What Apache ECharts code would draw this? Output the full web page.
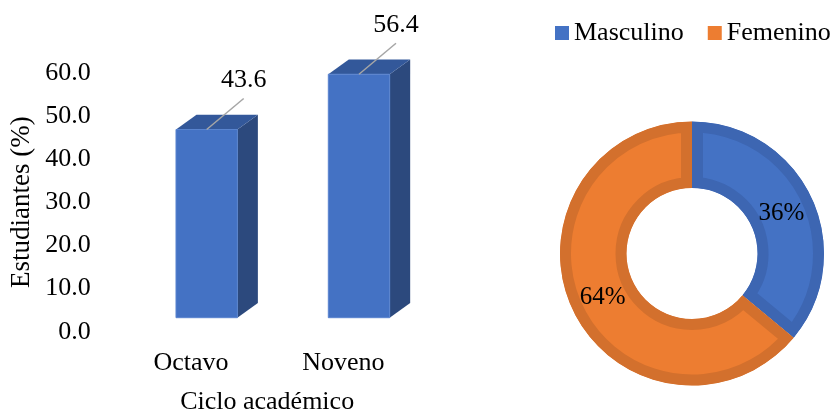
<!DOCTYPE html>
<html><head><meta charset="utf-8">
<script src="https://cdn.jsdelivr.net/npm/echarts@6/dist/echarts.min.js"></script>
<style>html,body{margin:0;padding:0;background:#fff}#c{width:840px;height:412px}</style>
</head><body><div id="c"></div>
<script>
// ---- data ----
const cycleLabels = ['Octavo', 'Noveno'];
const cycleValues = [43.6, 56.4];
const yTicks = [0, 10, 20, 30, 40, 50, 60];
const sexLabels = ['Masculino', 'Femenino'];
const sexValues = [36, 64];

// ---- styles ----
const FONT = '"Liberation Serif", "Times New Roman", serif';
const SLICE_FILL = ['#4472C4', '#ED7D31'];
const SLICE_EDGE = ['#3D66B2', '#D3702D'];
const DX = 20.5, DY = -14.7, LIFT = 14;

const chart = echarts.init(document.getElementById('c'), null, {renderer: 'canvas'});

function renderBar(params, api) {
  const v = api.value(1);
  const base = api.coord([api.value(0), 0]);
  const top = api.coord([api.value(0), v]);
  const band = api.size([1, 0])[0];
  const w = band * 0.403;
  const x0 = base[0] - band * 0.0985;
  const x1 = x0 + w;
  const yb = base[1] - LIFT;
  const yt = top[1] - LIFT;
  const cx = (x0 + x1) / 2;
  return {
    type: 'group',
    children: [
      {type: 'polygon', shape: {points: [[x1, yb], [x1 + DX, yb + DY], [x1 + DX, yt + DY], [x1, yt]]}, style: {fill: '#2C497D'}},
      {type: 'polygon', shape: {points: [[x0, yt], [x1, yt], [x1 + DX, yt + DY], [x0 + DX, yt + DY]]}, style: {fill: '#33589A'}},
      {type: 'rect', shape: {x: x0, y: yt, width: w, height: yb - yt}, style: {fill: '#4472C4', stroke: '#5A84CF', lineWidth: 1}},
      {type: 'line', shape: {x1: cx, y1: yt, x2: cx + 37, y2: yt - 31}, style: {stroke: '#A6A6A6', lineWidth: 1.5}},
      {type: 'text', x: cx + 37, y: yt - 49, style: {text: v.toFixed(1), fontSize: 26, fontFamily: FONT, fill: '#000', align: 'center', verticalAlign: 'middle'}}
    ]
  };
}

function renderSlice(params, api) {
  const k = params.seriesIndex - 1;
  const a0 = api.value(0), a1 = api.value(1), pct = api.value(2);
  const cs = params.coordSys;
  const sa = -api.coord([0, a0])[3];
  const ea = -api.coord([0, a1])[3];
  const shape = {cx: cs.cx, cy: cs.cy, r: cs.r, r0: cs.r0, startAngle: sa, endAngle: ea, clockwise: true};
  const pm = api.coord([0.5, (a0 + a1) / 2]);
  return {
    type: 'group',
    children: [
      {type: 'sector', shape: shape, style: {fill: SLICE_FILL[k], stroke: SLICE_EDGE[k], lineWidth: 22}, clipPath: {type: 'sector', shape: shape}},
      {type: 'text', x: pm[0], y: pm[1] + 2, style: {text: pct + '%', fontSize: 25, fontFamily: FONT, fill: '#000', align: 'center', verticalAlign: 'middle'}}
    ]
  };
}

const sliceSeries = sexLabels.map((name, k) => {
  const start = sexValues.slice(0, k).reduce((a, b) => a + b, 0);
  return {
    type: 'custom', name: name, coordinateSystem: 'polar',
    itemStyle: {color: SLICE_FILL[k]},
    data: [[start, start + sexValues[k], sexValues[k]]],
    renderItem: renderSlice
  };
});

const axisText = {fontSize: 26, fontFamily: FONT, color: '#000'};

chart.setOption({
  animation: false,
  backgroundColor: '#fff',
  legend: {
    data: sexLabels, left: 555, top: 20, width: 285, padding: 0, icon: 'rect',
    itemWidth: 14, itemHeight: 14, itemGap: 24,
    textStyle: {fontSize: 26, fontFamily: FONT, color: '#000'}
  },
  grid: {left: 114.85, right: 420.55, top: 72.7, bottom: 80.3, containLabel: false, outerBoundsMode: 'none'},
  xAxis: {
    type: 'category', data: cycleLabels,
    axisLine: {show: false}, axisTick: {show: false}, splitLine: {show: false},
    axisLabel: Object.assign({margin: 18}, axisText),
    name: 'Ciclo académico', nameLocation: 'middle', nameGap: 57, nameTextStyle: axisText
  },
  yAxis: {
    type: 'value', min: yTicks[0], max: yTicks[yTicks.length - 1], interval: yTicks[1] - yTicks[0],
    axisLine: {show: false}, axisTick: {show: false}, splitLine: {show: false},
    axisLabel: Object.assign({margin: 24, formatter: v => v.toFixed(1)}, axisText),
    name: 'Estudiantes (%)', nameLocation: 'middle', nameGap: 79,
    nameTextStyle: {fontSize: 27, fontFamily: FONT, color: '#000'}
  },
  polar: {center: [692, 253.5], radius: [65.5, 132]},
  angleAxis: {type: 'value', min: 0, max: 100, startAngle: 90, clockwise: true, show: false,
    axisLine: {show: false}, axisTick: {show: false}, axisLabel: {show: false}, splitLine: {show: false}},
  radiusAxis: {type: 'value', min: 0, max: 1, show: false,
    axisLine: {show: false}, axisTick: {show: false}, axisLabel: {show: false}, splitLine: {show: false}},
  series: [
    {
      type: 'custom', name: 'Estudiantes', coordinateSystem: 'cartesian2d',
      data: cycleLabels.map((c, i) => [c, cycleValues[i]]),
      encode: {x: 0, y: 1},
      renderItem: renderBar
    }
  ].concat(sliceSeries)
});
</script>
</body></html>
